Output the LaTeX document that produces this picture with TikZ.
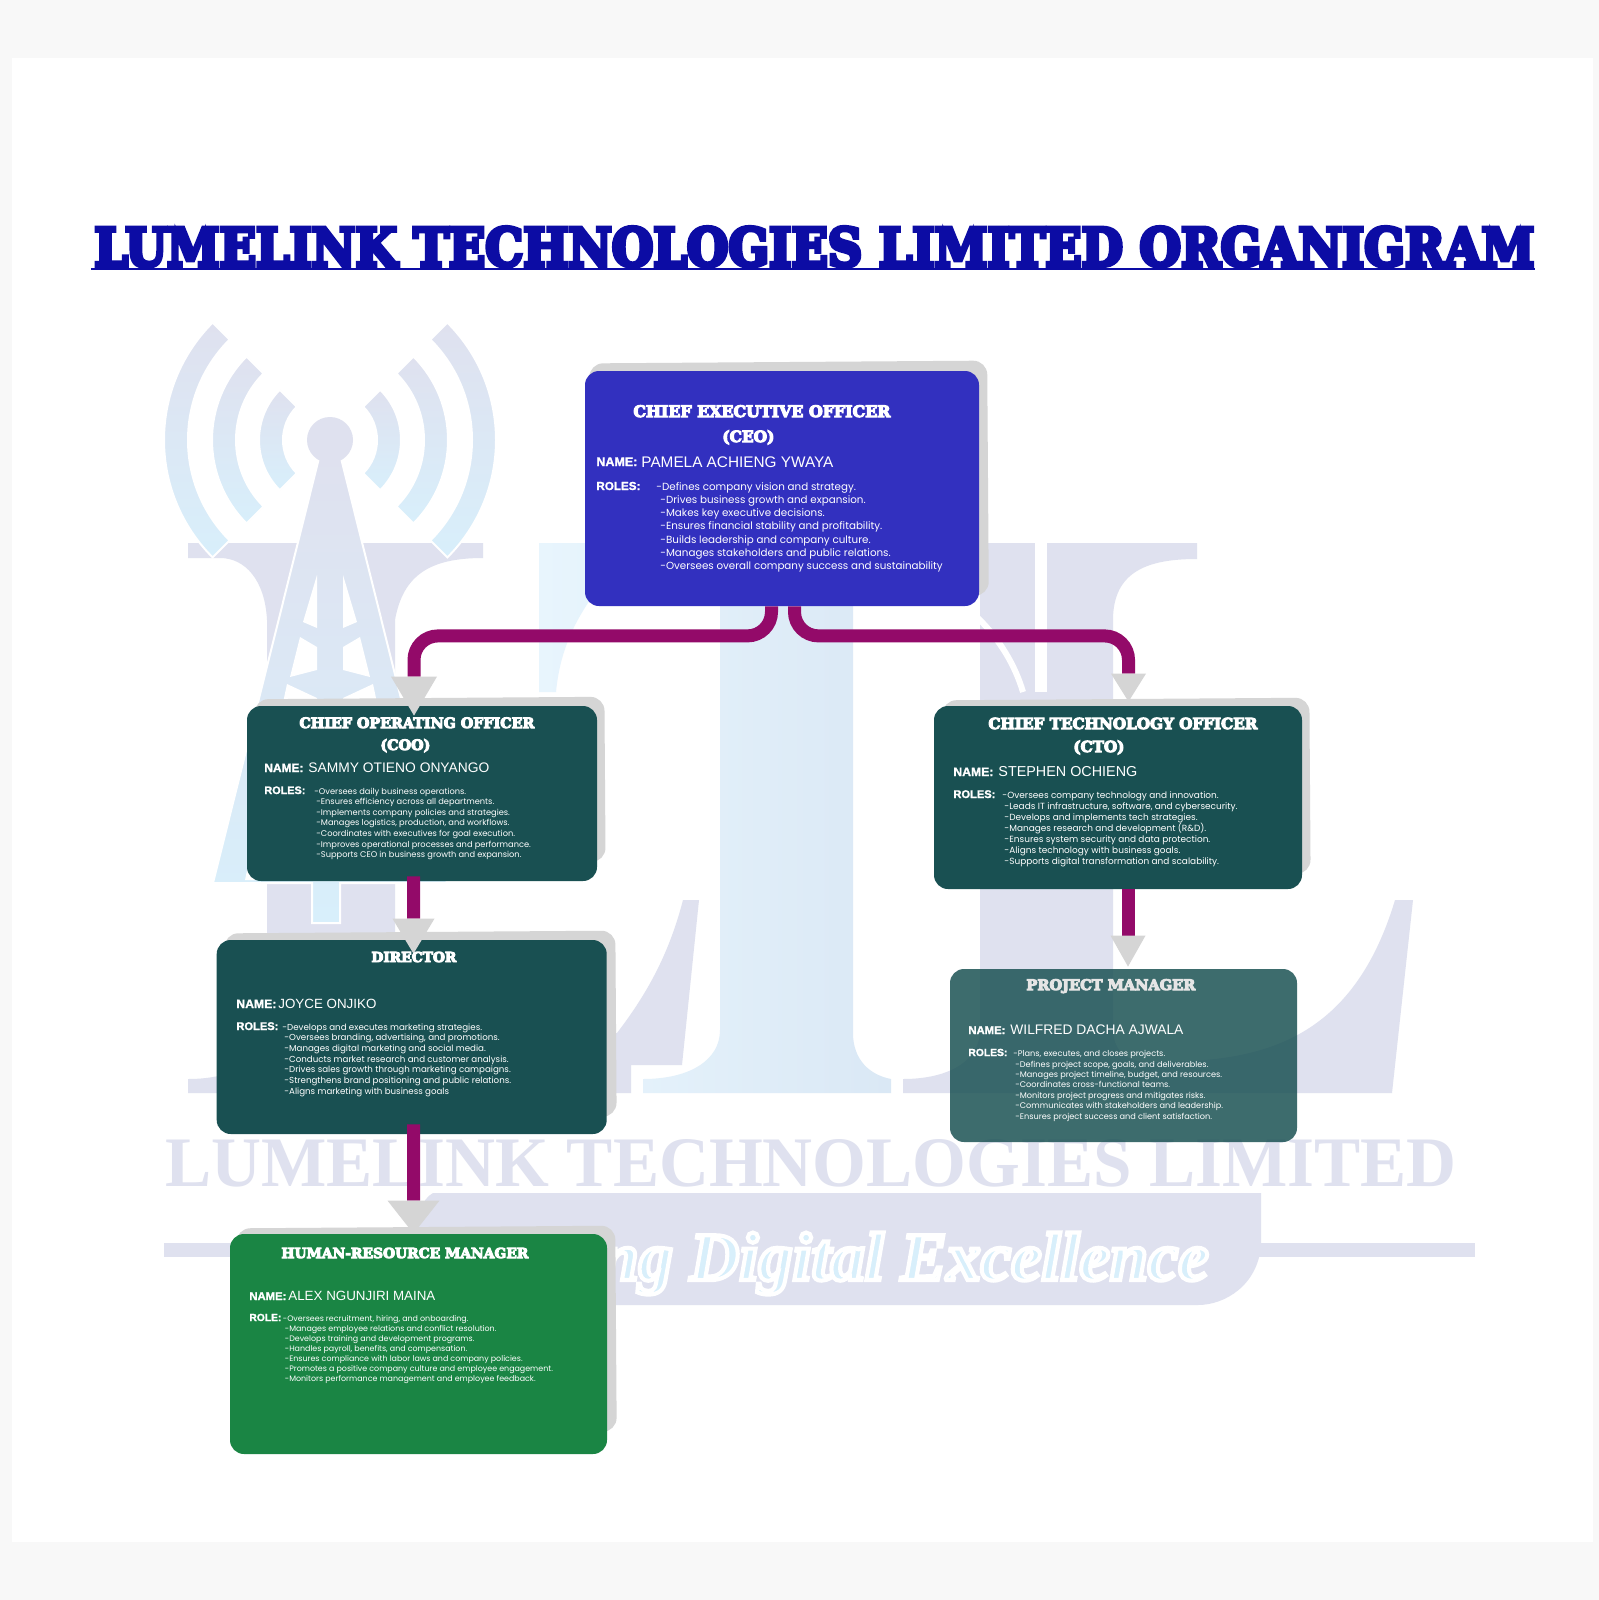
\documentclass[tikz,border=0pt]{standalone}
\usepackage{fontspec}
\usetikzlibrary{arrows.meta}
\newfontfamily\headF{DejaVu Serif Bold}
\newfontfamily\wmF{Liberation Serif Bold}
\newfontfamily\nameF{Liberation Sans}
\newfontfamily\tagF{Liberation Serif Bold Italic}
\newfontfamily\labelF{Liberation Sans Bold}[FakeBold=1.5]
\newfontfamily\roleF{Poppins}
\definecolor{pageG}{HTML}{F8F8F8}
\definecolor{wmL}{HTML}{DFE1EF}
\definecolor{wmA}{HTML}{E8F5FD}
\definecolor{wmB}{HTML}{D8EFFB}
\definecolor{wmM}{HTML}{DAE8F5}
\definecolor{titleB}{HTML}{0C0CA4}
\definecolor{ceoB}{HTML}{3230BF}
\definecolor{tealC}{HTML}{195052}
\definecolor{hrG}{HTML}{1A8544}
\definecolor{shadG}{HTML}{D5D5D5}
\definecolor{linkP}{HTML}{930A69}
\newcommand{\fitT}[2]{\resizebox{#1pt}{!}{#2}}
\newcommand{\strokeT}[3]{\special{pdf:code q 2 Tr #1 w #2 RG}#3\special{pdf:code Q}}
\newcommand{\headT}[2]{\fitT{#1}{\headF\strokeT{0.7}{1 1 1}{#2}}}
\newcommand{\roleS}[2]{\fontsize{#1}{#2}\selectfont\roleF}
\tikzset{
  cardN/.style={rounded corners=7pt,inner sep=0},
  shadN/.style={cardN,fill=shadG,rotate=0.4},
  textN/.style={inner sep=0,text=white,anchor=base west},
  roleN/.style={inner sep=0,text=white,anchor=north west,align=left},
  linkA/.style 2 args={draw=linkP,line width=6.5pt,rounded corners=12pt,
    -{Triangle[color=shadG,length=#1pt,width=#2pt,line width=0pt]}},
  wmS/.style={draw=white,line width=1pt,top color=wmL,bottom color=wmB}
}
\begin{document}
\begin{tikzpicture}[x=0.5pt,y=-0.5pt]
  \useasboundingbox (0,0) rectangle (1599,1600);
  \fill[pageG] (0,0) rectangle (1599,1600);
  \fill[white] (12,58) rectangle (1593,1542);

  % watermark
  \fill[wmL] (188,543) -- (483,543) -- (483,558) .. controls (430,558) and (403,575) .. (395,620)
    -- (395,1040) -- (617,1033) .. controls (650,990) and (670,950) .. (683,900) -- (699,900)
    -- (682,1065) -- (631,1065) -- (631,1093) -- (188,1093) -- (188,1079)
    .. controls (235,1079) and (267,1060) .. (267,1030) -- (267,620)
    .. controls (265,580) and (245,558) .. (220,558) -- (188,558) -- cycle;
  \fill[wmL] (1047,543) -- (1197,543) -- (1197,559) .. controls (1150,559) and (1113,570) .. (1113,620)
    -- (1113,1028) .. controls (1113,1050) and (1125,1062) .. (1150,1062)
    .. controls (1250,1062) and (1350,1050) .. (1395,900) -- (1413,900) -- (1392,1093)
    -- (903,1093) -- (903,1079) .. controls (950,1079) and (980,1060) .. (980,1030)
    -- (980,543) -- cycle;
  \draw[white,line width=3pt] (978,618) .. controls (1000,640) and (1015,665) .. (1023,692);
  \draw[white,line width=6pt] (1041,543) -- (1041,692);
  \shade[left color=wmA,middle color=wmB,right color=wmM] (539,543) -- (853,543) -- (853,1033)
    .. controls (853,1060) and (870,1075) .. (891,1079) -- (891,1093) -- (643,1093) -- (643,1079)
    .. controls (690,1079) and (720,1060) .. (720,1030) -- (720,590) -- (597,590)
    .. controls (575,620) and (560,650) .. (556,692) -- (539,692) -- cycle;
  \fill[wmL] (164,1243) rectangle (1475,1257);
  \fill[wmL] (433,1193) -- (1261,1193) -- (1261,1245) .. controls (1258,1285) and (1225,1305) .. (1198,1305)
    -- (415,1305) -- (415,1240) .. controls (420,1215) and (420,1200) .. (433,1193) -- cycle;

  % tower
  \foreach \rO/\rI in {71/47,118/94,166/142}{
    \draw[wmS] (330,440) ++(135:\rO) arc[start angle=135,end angle=225,radius=\rO]
      -- ++(45:\rO-\rI) arc[start angle=225,end angle=135,radius=\rI] -- cycle;
    \draw[wmS] (330,440) ++(45:\rO) arc[start angle=45,end angle=-45,radius=\rO]
      -- ++(135:\rO-\rI) arc[start angle=-45,end angle=45,radius=\rI] -- cycle;
  }
  \draw[wmS] (321,450) -- (339,450) -- (447,883) -- (340,883) -- (340,923) -- (312,923)
    -- (312,883) -- (213,883) -- cycle;
  \fill[wmL] (330,440) circle[radius=23];
  \fill[white] (317,575) -- (303,622) -- (317,628) -- cycle;
  \fill[white] (343,575) -- (357,622) -- (343,628) -- cycle;
  \fill[white] (300,637) -- (317,647) -- (317,670) -- (290,677) -- cycle;
  \fill[white] (360,637) -- (343,647) -- (343,670) -- (370,677) -- cycle;
  \fill[white] (287,684) -- (317,698) -- (317,880) -- (245,880) -- cycle;
  \fill[white] (373,684) -- (343,698) -- (343,880) -- (415,880) -- cycle;

  \node[inner sep=0,text=wmL,anchor=base west] (wmName) at (165,1186)
    {\resizebox{645.5pt}{23.5pt}{\wmF LUMELINK TECHNOLOGIES LIMITED}};
  \node[inner sep=0,text=wmB,anchor=base east] (wmTag) at (1209,1280)
    {\resizebox{304pt}{!}{\tagF\strokeT{0.6}{1 1 1}{ng Digital Excellence}}};

  % title
  \node[inner sep=0,text=titleB,anchor=base west] (title) at (94,266)
    {\resizebox{720pt}{19.5pt}{\headF\strokeT{0.8}{0.047 0.047 0.643}{LUMELINK TECHNOLOGIES LIMITED ORGANIGRAM}}};
  \draw[titleB,line width=0.8pt] ([shift={(-1.5pt,-1.5pt)}]title.base west) -- ([yshift=-1.5pt]title.base east);

  % cards
  \node[shadN,minimum width=199pt,minimum height=117.5pt] (ceoS) at (789,479.5) {};
  \node[shadN,minimum width=175pt,minimum height=82.5pt] (cooS) at (430,780.5) {};
  \node[shadN,minimum width=183.5pt,minimum height=88pt] (ctoS) at (1126.5,787) {};
  \node[shadN,minimum width=195.5pt,minimum height=93pt] (dirS) at (420.5,1025) {};
  \node[shadN,minimum width=189.5pt,minimum height=103pt] (hrS) at (426.5,1330) {};

  \node[cardN,fill=ceoB,minimum width=197pt,minimum height=117.5pt] (ceo) at (782,488.5) {};
  \node[cardN,fill=tealC,minimum width=175pt,minimum height=87.5pt] (coo) at (422,793.5) {};
  \node[cardN,fill=tealC,minimum width=184pt,minimum height=91.5pt] (cto) at (1118,797.5) {};
  \node[cardN,fill=tealC,minimum width=195pt,minimum height=97pt] (dir) at (411.7,1037) {};
  \node[cardN,fill=tealC,fill opacity=0.84,minimum width=173.5pt,minimum height=86.5pt] (pm) at (1123.5,1055.5) {};
  \node[cardN,fill=hrG,minimum width=188.5pt,minimum height=110pt] (hr) at (418.5,1344) {};

  % connectors
  \draw[linkA={19.5}{23}] ([xshift=-5.25pt]ceo.south) -- ++(0,29.5)
    -| ([shift={(-4pt,-5pt)}]coo.north);
  \draw[linkA={14}{17.5}] ([xshift=6.25pt]ceo.south) -- ++(0,29.5)
    -| ([shift={(5.25pt,2pt)}]cto.north);
  \draw[linkA={17.5}{21}] ([shift={(-4.25pt,2.5pt)}]coo.south) -- ([shift={(0.9pt,-7pt)}]dir.north);
  \draw[linkA={16.5}{26}] ([shift={(0.9pt,5pt)}]dir.south) -- ([xshift=-2.5pt]hr.north);
  \draw[linkA={15.5}{17.5}] ([xshift=5pt]cto.south) -- ([shift={(2.25pt,1pt)}]pm.north);

  % texts of the cards
  \node[textN] (ceoH) at (633,417) {\headT{128.5}{CHIEF EXECUTIVE OFFICER}};
  \node[textN] (ceoK) at (722,442) {\headT{26}{(CEO)}};
  \node[textN] (ceoN) at (596,466) {\fitT{20.5}{\labelF NAME:}};
  \node[textN] (ceoV) at (641,467) {\fitT{96}{\nameF PAMELA ACHIENG YWAYA}};
  \node[textN] (ceoR) at (596,490) {\fitT{22}{\labelF ROLES:}};
  \node[roleN,font=\roleS{5.16}{6.6}] (ceoL) at (660,482) {\hspace*{-2pt}-Defines company vision and strategy.\\
    -Drives business growth and expansion.\\
    -Makes key executive decisions.\\
    -Ensures financial stability and profitability.\\
    -Builds leadership and company culture.\\
    -Manages stakeholders and public relations.\\
    -Oversees overall company success and sustainability};

  \node[textN] (cooH) at (299,728) {\headT{117.5}{CHIEF OPERATING OFFICER}};
  \node[textN] (cooK) at (380,750) {\headT{25}{(COO)}};
  \node[textN] (cooN) at (264,772) {\fitT{19.5}{\labelF NAME:}};
  \node[textN] (cooV) at (308,772) {\fitT{90.5}{\nameF SAMMY OTIENO ONYANGO}};
  \node[textN] (cooR) at (264,794) {\fitT{20.5}{\labelF ROLES:}};
  \node[roleN,font=\roleS{4.13}{5.3}] (cooL) at (316,787.5) {\hspace*{-1pt}-Oversees daily business operations.\\
    -Ensures efficiency across all departments.\\
    -Implements company policies and strategies.\\
    -Manages logistics, production, and workflows.\\
    -Coordinates with executives for goal execution.\\
    -Improves operational processes and performance.\\
    -Supports CEO in business growth and expansion.};

  \node[textN] (ctoH) at (988,729) {\headT{134.5}{CHIEF TECHNOLOGY OFFICER}};
  \node[textN] (ctoK) at (1073,752) {\headT{25.5}{(CTO)}};
  \node[textN] (ctoN) at (953,776) {\fitT{20}{\labelF NAME:}};
  \node[textN] (ctoV) at (998,776) {\fitT{69.5}{\nameF STEPHEN OCHIENG}};
  \node[textN] (ctoR) at (953,798) {\fitT{21}{\labelF ROLES:}};
  \node[roleN,font=\roleS{4.47}{5.5}] (ctoL) at (1004,791) {\hspace*{-1pt}-Oversees company technology and innovation.\\
    -Leads IT infrastructure, software, and cybersecurity.\\
    -Develops and implements tech strategies.\\
    -Manages research and development (R\&D).\\
    -Ensures system security and data protection.\\
    -Aligns technology with business goals.\\
    -Supports digital transformation and scalability.};

  \node[textN] (dirH) at (371,962) {\headT{42.5}{DIRECTOR}};
  \node[textN] (dirN) at (236,1008) {\fitT{20}{\labelF NAME:}};
  \node[textN] (dirV) at (278,1008) {\fitT{49}{\nameF JOYCE ONJIKO}};
  \node[textN] (dirR) at (236,1030) {\fitT{21}{\labelF ROLES:}};
  \node[roleN,font=\roleS{4.34}{5.35}] (dirL) at (284,1023) {\hspace*{-1pt}-Develops and executes marketing strategies.\\
    -Oversees branding, advertising, and promotions.\\
    -Manages digital marketing and social media.\\
    -Conducts market research and customer analysis.\\
    -Drives sales growth through marketing campaigns.\\
    -Strengthens brand positioning and public relations.\\
    -Aligns marketing with business goals};

  \node[textN,text=white!90!black] (pmH) at (1026,990) {\fitT{84.5}{\headF\strokeT{0.7}{0.9 0.9 0.9}{PROJECT MANAGER}}};
  \node[textN] (pmN) at (968,1034) {\fitT{18.5}{\labelF NAME:}};
  \node[textN] (pmV) at (1010,1034) {\fitT{86.5}{\nameF WILFRED DACHA AJWALA}};
  \node[textN] (pmR) at (968,1056) {\fitT{19.5}{\labelF ROLES:}};
  \node[roleN,font=\roleS{4.09}{5.2}] (pmL) at (1015,1050) {\hspace*{-1pt}-Plans, executes, and closes projects.\\
    -Defines project scope, goals, and deliverables.\\
    -Manages project timeline, budget, and resources.\\
    -Coordinates cross-functional teams.\\
    -Monitors project progress and mitigates risks.\\
    -Communicates with stakeholders and leadership.\\
    -Ensures project success and client satisfaction.};

  \node[textN] (hrH) at (281,1258) {\headT{123.5}{HUMAN-RESOURCE MANAGER}};
  \node[textN] (hrN) at (249,1300) {\fitT{18.5}{\labelF NAME:}};
  \node[textN] (hrV) at (288,1300) {\fitT{73.5}{\nameF ALEX NGUNJIRI MAINA}};
  \node[textN] (hrR) at (249,1321) {\fitT{16}{\labelF ROLE:}};
  \node[roleN,font=\roleS{3.96}{5}] (hrL) at (284.5,1315) {\hspace*{-1pt}-Oversees recruitment, hiring, and onboarding.\\
    -Manages employee relations and conflict resolution.\\
    -Develops training and development programs.\\
    -Handles payroll, benefits, and compensation.\\
    -Ensures compliance with labor laws and company policies.\\
    -Promotes a positive company culture and employee engagement.\\
    -Monitors performance management and employee feedback.};
\end{tikzpicture}
\end{document}
